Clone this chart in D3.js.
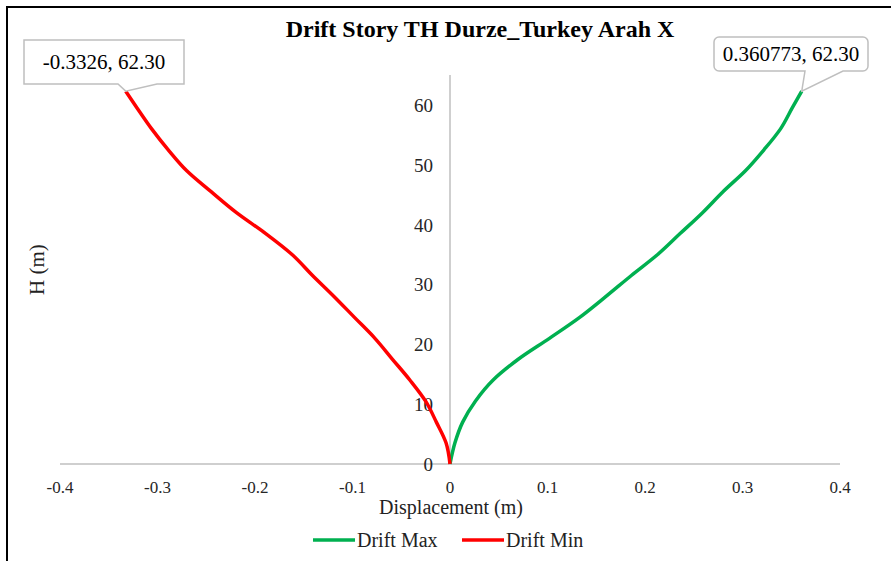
<!DOCTYPE html>
<html>
<head>
<meta charset="utf-8">
<script src="https://cdn.jsdelivr.net/npm/d3@7"></script>
<style>
  body { margin: 0; background: #fff; }
  text { font-family: "Liberation Serif", "Times New Roman", serif; }
</style>
</head>
<body>
<div id="chart"></div>
<script>
// storey heights (m) and drift envelopes (m)
const heights = [0, 3.5, 7, 10.5, 14, 17.5, 21, 24.5, 28, 31.5, 35, 38.5, 42, 45.5, 49, 52.5, 56, 59.5, 62.3]
const driftMax = [0, 0.005, 0.013, 0.026, 0.044, 0.070, 0.102, 0.133, 0.160, 0.186, 0.213, 0.236, 0.259, 0.280, 0.303, 0.322, 0.339, 0.351, 0.360773]
const driftMin = [0, -0.004, -0.014, -0.025, -0.041, -0.059, -0.077, -0.098, -0.119, -0.141, -0.162, -0.189, -0.219, -0.245, -0.270, -0.289, -0.306, -0.321, -0.3326]
const xTicks = [-0.4, -0.3, -0.2, -0.1, 0, 0.1, 0.2, 0.3, 0.4]
const yTicks = [0, 10, 20, 30, 40, 50, 60]

let w = 891, h = 561

let svg = d3.select("#chart")
  .append("svg")
  .attr("width", w)
  .attr("height", h)

// outer frame (right and bottom edges fall outside the picture)
svg.append("rect")
  .attr("x", 7).attr("y", 7)
  .attr("width", 900).attr("height", 600)
  .attr("fill", "none")
  .attr("stroke", "#000")
  .attr("stroke-width", 2)

let x = d3.scaleLinear().domain([-0.4, 0.4]).range([60, 840])
let y = d3.scaleLinear().domain([0, 65]).range([464, 75])

// axis lines
svg.append("line")
  .attr("x1", x(-0.4)).attr("x2", x(0.4))
  .attr("y1", y(0)).attr("y2", y(0))
  .attr("stroke", "#bfbfbf").attr("stroke-width", 1.5)
svg.append("line")
  .attr("x1", x(0)).attr("x2", x(0))
  .attr("y1", y(0)).attr("y2", y(65))
  .attr("stroke", "#bfbfbf").attr("stroke-width", 1.5)

// tick labels
svg.selectAll(".xtick")
  .data(xTicks)
  .enter()
  .append("text")
  .attr("class", "xtick")
  .attr("x", d => x(d))
  .attr("y", y(0) + 29)
  .attr("text-anchor", "middle")
  .attr("font-size", 17)
  .attr("fill", "#262626")
  .text(d => d)

svg.selectAll(".ytick")
  .data(yTicks)
  .enter()
  .append("text")
  .attr("class", "ytick")
  .attr("x", x(0) - 17)
  .attr("y", d => y(d) + 7)
  .attr("text-anchor", "end")
  .attr("font-size", 19)
  .attr("fill", "#262626")
  .text(d => d)

// titles
svg.append("text")
  .attr("x", 480).attr("y", 37)
  .attr("text-anchor", "middle")
  .attr("font-size", 24)
  .attr("font-weight", "bold")
  .text("Drift Story TH Durze_Turkey Arah X")

svg.append("text")
  .attr("x", 451).attr("y", 514)
  .attr("text-anchor", "middle")
  .attr("font-size", 20)
  .attr("fill", "#222")
  .text("Displacement (m)")

svg.append("text")
  .attr("transform", `translate(44,${y(32.5)}) rotate(-90)`)
  .attr("text-anchor", "middle")
  .attr("font-size", 21)
  .attr("fill", "#222")
  .text("H (m)")

// series
let series = [
  { name: "Drift Max", values: driftMax, color: "#00b050" },
  { name: "Drift Min", values: driftMin, color: "#ff0000" }
]

let line = d3.line()
  .x(d => x(d[0]))
  .y(d => y(d[1]))
  .curve(d3.curveMonotoneY)

svg.selectAll(".series")
  .data(series)
  .enter()
  .append("path")
  .attr("class", "series")
  .attr("fill", "none")
  .attr("stroke", d => d.color)
  .attr("stroke-width", 3.5)
  .attr("d", d => line(d.values.map((v, i) => [v, heights[i]])))

// data callouts at the top point
let lastIdx = heights.length - 1
function callout(px, py, bx, by, bw, bh, notch, label, rounded) {
  let r = rounded ? 5 : 0
  let g = svg.append("g")
  let p = d3.path()
  p.moveTo(bx + r, by)
  p.lineTo(bx + bw - r, by)
  if (r) p.arcTo(bx + bw, by, bx + bw, by + r, r)
  p.lineTo(bx + bw, by + bh - r)
  if (r) p.arcTo(bx + bw, by + bh, bx + bw - r, by + bh, r)
  p.lineTo(notch[1], by + bh)
  p.lineTo(px, py)
  p.lineTo(notch[0], by + bh)
  p.lineTo(bx + r, by + bh)
  if (r) p.arcTo(bx, by + bh, bx, by + bh - r, r)
  p.lineTo(bx, by + r)
  if (r) p.arcTo(bx, by, bx + r, by, r)
  p.closePath()
  g.append("path")
    .attr("d", p.toString())
    .attr("fill", "#fff")
    .attr("stroke", "#bfbfbf")
    .attr("stroke-width", 1.5)
  g.append("text")
    .attr("x", bx + bw / 2)
    .attr("y", by + bh / 2 + 7)
    .attr("text-anchor", "middle")
    .attr("font-size", 21)
    .text(label)
}

callout(x(driftMin[lastIdx]), y(heights[lastIdx]), 24, 40, 160, 44, [118, 157], "-0.3326, 62.30", false)
callout(x(driftMax[lastIdx]), y(heights[lastIdx]), 714, 37, 154, 34, [805, 843], "0.360773, 62.30", true)

// legend
let legend = svg.selectAll(".legend")
  .data(series)
  .enter()
  .append("g")
  .attr("class", "legend")
  .attr("transform", (d, i) => `translate(${313 + i * 149},540)`)

legend.append("line")
  .attr("x1", 0).attr("x2", 42)
  .attr("stroke", d => d.color)
  .attr("stroke-width", 3.5)

legend.append("text")
  .attr("x", 44).attr("y", 7)
  .attr("font-size", 20)
  .attr("fill", "#222")
  .text(d => d.name)
</script>
</body>
</html>
